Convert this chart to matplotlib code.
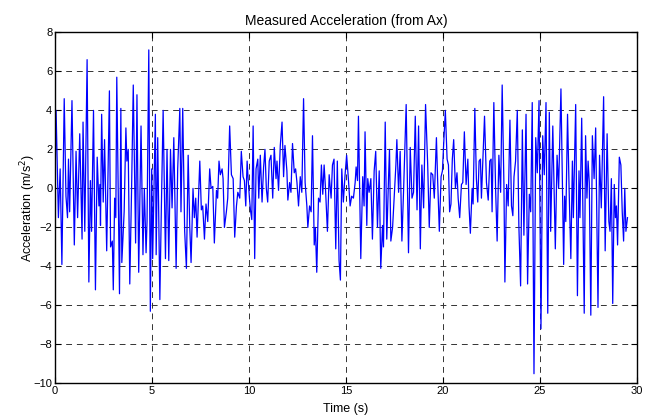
import numpy as np
import matplotlib.pyplot as plt

plt.rcParams['font.family'] = ['Liberation Sans', 'DejaVu Sans']

# time (s) and acceleration (m/s^2)
t = [0.00, 0.05, 0.17, 0.26, 0.35, 0.47, 0.56, 0.64, 0.69, 0.75, 0.87, 0.99, 1.08, 1.16, 1.27, 1.39, 1.44, 1.53,
     1.65, 1.74, 1.82, 1.88, 1.98, 2.08, 2.17, 2.26, 2.31, 2.34, 2.40, 2.48, 2.55, 2.66, 2.80, 2.86, 2.95, 3.00,
     3.07, 3.13, 3.18, 3.32, 3.39, 3.44, 3.56, 3.65, 3.70, 3.77, 3.85, 3.94, 4.03, 4.15, 4.22, 4.31, 4.43, 4.53,
     4.60, 4.69, 4.74, 4.83, 4.91, 4.98, 5.03, 5.17,
     5.21, 5.29, 5.40, 5.48, 5.57, 5.69, 5.77, 5.86, 5.95, 6.03, 6.12, 6.24, 6.32, 6.43, 6.49, 6.58, 6.68, 6.77,
     6.86, 6.94, 7.01, 7.11, 7.18, 7.25, 7.32, 7.46, 7.54, 7.61, 7.70, 7.78, 7.87, 7.97, 8.04, 8.13, 8.21, 8.32,
     8.38, 8.45, 8.52, 8.61, 8.66, 8.73, 8.83, 8.90, 9.00, 9.09, 9.18, 9.26, 9.35, 9.42, 9.52, 9.60, 9.69, 9.76,
     9.83, 9.90, 9.95, 10.02, 10.07, 10.14, 10.21, 10.29,
     10.36, 10.45, 10.50, 10.58, 10.67, 10.75, 10.82, 10.89, 10.96, 11.04, 11.13, 11.22, 11.30, 11.39, 11.44,
     11.52, 11.61, 11.70, 11.78, 11.85, 11.95, 12.00, 12.09, 12.16, 12.24, 12.33, 12.40, 12.47, 12.55, 12.64,
     12.72, 12.81, 12.89, 12.98, 13.03, 13.12, 13.20, 13.27, 13.36, 13.42, 13.49, 13.58, 13.66, 13.73, 13.80,
     13.87, 13.94, 14.04, 14.13, 14.23, 14.30, 14.38, 14.47, 14.55, 14.64, 14.71, 14.78, 14.86, 14.95, 15.03,
     15.12, 15.21, 15.29, 15.38,
     15.47, 15.52, 15.59, 15.64, 15.76, 15.86, 15.93, 15.98, 16.07, 16.12, 16.19, 16.28, 16.36, 16.45, 16.53,
     16.62, 16.71, 16.79, 16.88, 16.93, 17.02, 17.10, 17.19, 17.24, 17.31, 17.40, 17.48, 17.57, 17.62, 17.71,
     17.79, 17.88, 17.97, 18.10, 18.22, 18.31, 18.40, 18.48, 18.57, 18.66, 18.74, 18.83, 18.91, 19.00, 19.10,
     19.21, 19.29, 19.38, 19.47, 19.55, 19.66, 19.72, 19.81, 19.90, 19.97, 20.03, 20.12, 20.21, 20.28, 20.34,
     20.41, 20.48,
     20.55, 20.64, 20.72, 20.78, 20.86, 20.95, 21.02, 21.10, 21.19, 21.28, 21.34, 21.41, 21.50, 21.55, 21.64,
     21.72, 21.79, 21.86, 21.93, 21.98, 22.05, 22.14, 22.24, 22.33, 22.41, 22.48, 22.53, 22.62, 22.71, 22.79,
     22.88, 22.97, 23.05, 23.14, 23.19, 23.28, 23.36, 23.45, 23.53, 23.60, 23.66, 23.74, 23.83, 23.91, 24.00,
     24.09, 24.17, 24.28, 24.36, 24.45, 24.52, 24.60, 24.69, 24.78, 24.86, 24.95, 25.05, 25.14, 25.22, 25.31,
     25.40, 25.48, 25.55, 25.66,
     25.79, 25.88, 25.96, 26.08, 26.22, 26.27, 26.33, 26.42, 26.50, 26.59, 26.67, 26.72, 26.84, 26.93, 27.01,
     27.06, 27.15, 27.28, 27.35, 27.42, 27.48, 27.54, 27.62, 27.70, 27.79, 27.87, 27.99, 28.07, 28.16, 28.28,
     28.36, 28.46, 28.55, 28.61, 28.68, 28.75, 28.83, 28.89, 28.94, 29.00, 29.09, 29.17, 29.24, 29.31, 29.37,
     29.43, 29.51]

acc = [0.5, 4.0, -1.5, 1.0, -3.9, 4.6, -0.4, -1.5, 1.5, -1.2, 4.5, -2.9, 1.9, -1.5, 2.8, -2.6, 3.4, -2.2,
       6.6, -4.8, 0.4, -2.2, 4.0, -5.2, 1.6, -0.9, 0.2, -1.9, 3.8, -0.7, 2.5, -3.2, 5.0, -3.0, -2.7, -5.2,
       -0.5, -1.5, 5.7, -5.4, 4.1, -3.8, -1.2, 3.1, 1.4, 2.0, -4.9, -0.2, 5.3, -2.8, 4.8, -4.3, 3.2, -3.4,
       0.0, -3.3, -1.7, 7.1, -6.3, 1.0, -3.6, 3.8,
       -3.4, 2.6, -5.7, -0.9, 4.0, -3.6, 2.0, -3.7, 2.0, -1.0, 2.6, -4.1, 1.0, 4.1, -1.2, 4.1, -2.2, -4.1,
       1.7, -1.9, -3.8, 0.0, -1.5, -0.5, -2.5, 1.4, -1.1, -0.9, -2.6, -0.8, -1.7, 1.0, 0.0, 0.1, -2.8, -0.1,
       -0.5, 1.4, 0.7, 1.0, 0.5, -2.0, -1.2, -0.5, 3.2, 0.7, 0.5, -2.5, -0.9, -0.2, -0.5, 1.9, 0.6, 0.4,
       -0.9, 1.4, 0.5, -0.5, -1.1, -1.6, 3.2, -3.6,
       1.0, 1.5, -0.5, 1.7, -0.7, 1.1, 2.0, 0.0, -0.7, 1.4, 1.7, -0.5, 2.1, 0.5, 1.4,
       -0.1, 2.2, 3.4, 0.6, 2.2, 0.9, -0.6, 0.3, -0.2, 2.3, 0.8, 1.0, 0.3, -0.9, 0.6,
       -0.2, 4.6, 0.3, -0.9, -2.0, -0.9, -1.2, 2.7, -2.9, -2.0, -4.3, -0.5, -0.7, 1.2, -0.3,
       1.2, 0.0, -2.2, 0.7, -0.5, 1.2, 1.5, -3.1, 1.4, -3.7, -4.7, 1.0, -0.7, 0.7, 1.7,
       0.5, -0.9, -0.4, -0.5,
       0.3, 1.1, 0.4, 3.7, -3.6, 0.6, -0.9, 2.9, -1.9, 0.5, -0.2, 0.5, -2.6, 0.9, 1.9,
       -2.0, 0.9, -4.1, -1.9, -3.0, 3.4, -2.6, 0.5, 2.0, -2.7, -2.0, -0.5, 1.2, 2.5, -0.2,
       1.9, -2.7, 0.0, 4.3, -3.3, 2.1, -0.5, -0.2, 3.7, -1.1, 3.2, -3.1, 1.2, -1.0, 4.3,
       1.2, -2.0, 0.8, 0.7, -0.5, 2.6, 0.5, -2.2, 0.6, 0.9, 2.2, 4.0, 1.5, 1.2, -1.2,
       -0.8, 1.5,
       2.5, 0.0, 0.8, -0.5, -1.5, 0.2, 0.3, 2.9, 0.2, 1.5, -0.9, -2.3, 0.0, -0.8, 4.1,
       0.5, -0.7, 1.4, 1.5, -0.5, 1.4, 3.7, 0.3, -0.6, 1.4, 1.5, -1.2, 4.4, 0.0, -2.7,
       1.7, -0.2, 5.3, 0.2, -4.8, 0.2, -0.9, 3.5, -0.9, -1.4, 0.6, 1.4, 4.0, -1.9, -5.0,
       3.0, -2.4, 3.8, -4.9, -0.3, -1.2, 4.4, -9.5, 2.6, 0.8, 4.5, -7.2, 2.7, 0.7, 4.4,
       -6.4, 3.9, -2.2, 3.2,
       -3.1, 1.7, 0.0, 5.1, -3.9, -0.4, -1.7, 3.8, 0.0, -3.6, 1.4, -1.5, 4.3, -5.5, 0.9,
       -1.5, 3.6, -6.4, 2.7, -0.5, 1.4, 0.3, -6.5, 2.7, 0.5, 3.1, -6.1, 1.7, -1.0, 4.7,
       -3.2, 2.8, -1.7, -2.2, 0.5, -5.9, 0.2, -1.5, -0.9, -2.9, 1.6, 1.2, -1.2, -2.7, 0.0,
       -2.2, -1.5]

xticks = [0, 5, 10, 15, 20, 25, 30]
yticks = [-10, -8, -6, -4, -2, 0, 2, 4, 6, 8]

fig = plt.figure(figsize=(6.56, 4.2), dpi=100)
ax = fig.add_axes([0.084, 0.087, 0.887, 0.836])
ax.plot(t, acc, color='#0000ff', linewidth=0.9)

ax.set_xlim(0, 30)
ax.set_ylim(-10, 8)
ax.set_xticks(xticks)
ax.set_yticks(yticks)
ax.tick_params(direction='in', top=True, right=True, labelsize=8, length=4, pad=2)
ax.grid(True, color='#333333', linestyle=(0, (6, 5)), linewidth=0.7)
for s in ax.spines.values():
    s.set_linewidth(1.0)

ax.set_title('Measured Acceleration (from Ax)', fontsize=10, pad=5)
ax.set_xlabel('Time (s)', fontsize=9, labelpad=5)
ax.set_ylabel('Acceleration (m/s$^2$)', fontsize=9, labelpad=-3)

fig.savefig('out.png', dpi=100)
